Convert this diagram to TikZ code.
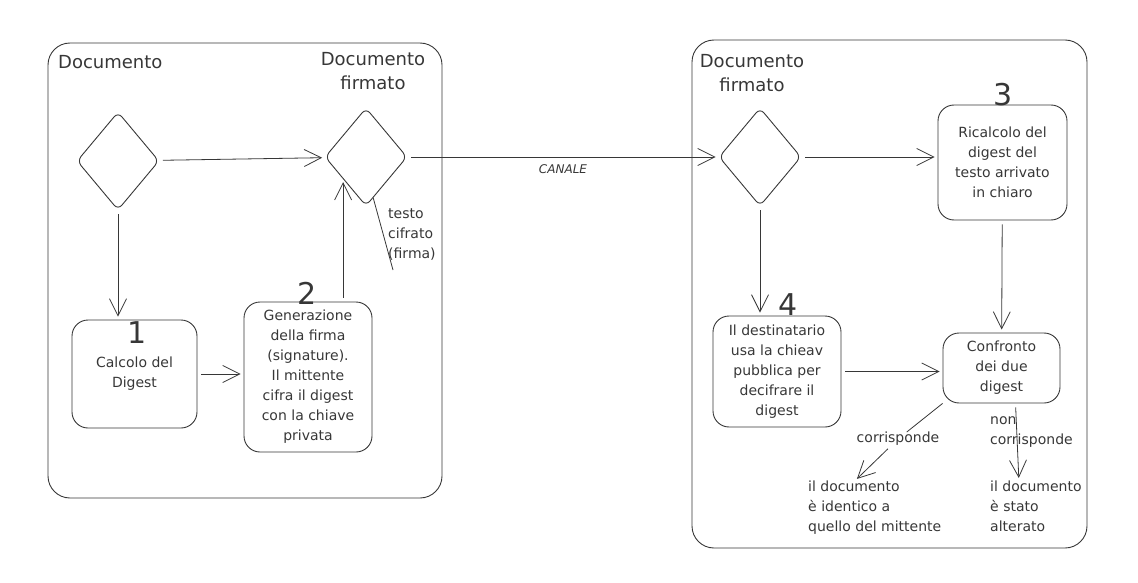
\documentclass[tikz,border=0pt]{standalone}
\usepackage{fontspec}
\setmainfont{DejaVu Sans}
\usetikzlibrary{shapes.geometric,arrows.meta}
\definecolor{ink}{RGB}{55,55,55}
\tikzset{
  frame/.style={draw=ink,line width=0.9pt,rounded corners=22pt},
  cell/.style={draw=ink,line width=0.9pt,rounded corners=16pt,align=center,text=ink,
    font=\fontsize{14}{20}\selectfont,inner sep=0pt},
  rombo/.style={draw=ink,line width=0.9pt,diamond,rounded corners=6pt,inner sep=0pt,
    minimum width=82pt,minimum height=98pt},
  num/.style={font=\fontsize{30}{30}\selectfont,text=ink,inner sep=0pt},
  txt/.style={font=\fontsize{14}{20}\selectfont,text=ink,align=left,inner sep=0pt},
  title/.style={font=\fontsize{18}{24}\selectfont,text=ink,align=center,inner sep=0pt},
  arr/.style={color=ink,line width=0.8pt,-{Straight Barb[length=17pt,width=17pt,line width=0.8pt]},
    shorten <=4pt,shorten >=3pt},
  seg/.style={color=ink,line width=0.8pt},
}
\begin{document}
\begin{tikzpicture}[x=1pt,y=-1pt]
\useasboundingbox (0,0) rectangle (1138,583);
% contenitori
\draw[frame] (48,43) rectangle (442,498);
\draw[frame] (692,40) rectangle (1087,548);
\node[title,anchor=north west] (tDoc) at (58,55) {Documento};
\node[title,anchor=north] (tFirm) at (373,52) {Documento\\firmato};
\node[title,anchor=north] (tFirmR) at (752,54) {Documento\\firmato};
% mittente
\node[rombo] (d1) at (118,161) {};
\node[rombo] (d2) at (366,157) {};
\node[cell,minimum width=125pt,minimum height=108pt] (box1) at (134.5,374) {Calcolo del\\Digest};
\node[cell,minimum width=128pt,minimum height=150pt] (box2) at (308,377)
  {Generazione\\della firma\\(signature).\\Il mittente\\cifra il digest\\con la chiave\\privata};
\node[num] (n1) at (137,333) {1};
\node[num] (n2) at (307,293) {2};
\coordinate (cifr) at (393,270);
\node[txt,anchor=north west] (lcifr) at (388,208) {testo\\cifrato\\(firma)};
% destinatario
\node[rombo] (d3) at (760,157) {};
\node[cell,minimum width=129pt,minimum height=115pt] (box3) at (1002.5,162.5)
  {Ricalcolo del\\digest del\\testo arrivato\\in chiaro};
\node[cell,minimum width=128pt,minimum height=111pt] (box4) at (777,371.5)
  {Il destinatario\\usa la chieav\\pubblica per\\decifrare il\\digest};
\node[cell,minimum width=117pt,minimum height=70pt] (confr) at (1001.5,368)
  {Confronto\\dei due\\digest};
\node[num] (n3) at (1003,95) {3};
\node[num] (n4) at (788,305) {4};
\node[txt] (corr) at (898,439) {corrisponde};
\node[txt,anchor=north west] (noncorr) at (990,416) {non\\corrisponde};
\node[txt,anchor=north west] (esito1) at (808,481) {il documento\\è identico a\\quello del mittente};
\node[txt,anchor=north west] (esito2) at (990,481) {il documento\\è stato\\alterato};
\coordinate (o1) at ([xshift=-20pt]esito1.north);
\coordinate (o2) at ([xshift=14pt]confr.south);
\coordinate (o3) at ([xshift=-17pt]esito2.north);
% frecce
\path[arr]
(d1) edge (d2)
(d1) edge (d1 |- box1.north)
(box1) edge (box1 -| box2.west)
(box2.north -| d2.-136) edge (d2.-136)
(d2) edge node[below=4pt,font=\fontsize{12}{12}\selectfont\itshape,text=ink] {CANALE} (d3)
(d3) edge (d3 -| box3.west)
(d3) edge (d3 |- box4.north)
(box3) edge (confr)
(box4) edge (box4 -| confr.west)
(corr) edge (o1)
(o2) edge (o3);
\path[seg]
(d2.-80) edge (cifr)
(confr.south west) edge (corr);
\end{tikzpicture}
\end{document}
